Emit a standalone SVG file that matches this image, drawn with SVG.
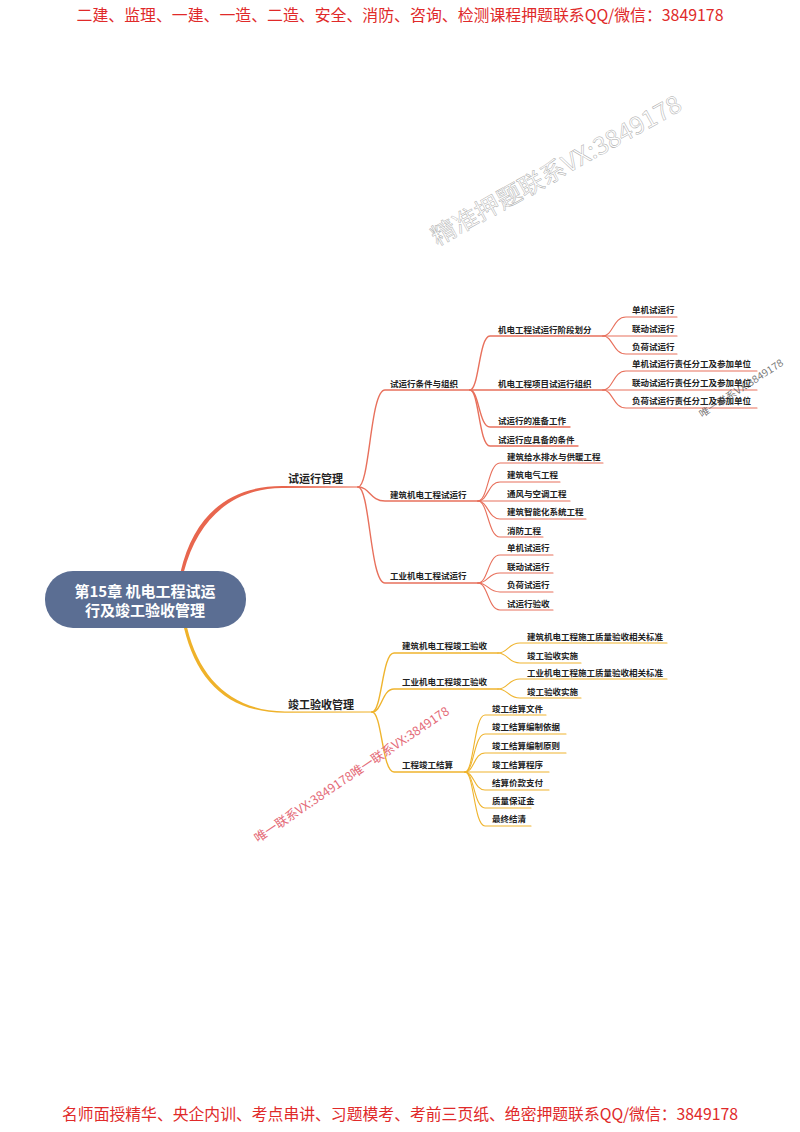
<svg xmlns="http://www.w3.org/2000/svg" width="800" height="1132" viewBox="0 0 800 1132">
<style>
.t{font-family:"Noto Sans CJK SC","Noto Sans",sans-serif;font-weight:700;fill:#222;font-size:8.5px}
.l1{font-size:11px}
.hd{font-family:"Noto Sans CJK SC","Noto Sans",sans-serif;font-size:16px;fill:#e02a2a}
.r{fill:none;stroke:#e8705c;stroke-width:1.4;stroke-linecap:round}
.rl{fill:none;stroke:#e8705c;stroke-width:1.1;stroke-linecap:round}
.y{fill:none;stroke:#efb42e;stroke-width:1.4;stroke-linecap:round}
.yl{fill:none;stroke:#efb42e;stroke-width:1.1;stroke-linecap:round}
</style>
<rect width="800" height="1132" fill="#fff"/>
<text class="hd" x="400" y="21" text-anchor="middle" textLength="647" lengthAdjust="spacingAndGlyphs">二建、监理、一建、一造、二造、安全、消防、咨询、检测课程押题联系QQ/微信：3849178</text>
<text class="hd" x="400" y="1120" text-anchor="middle" textLength="676" lengthAdjust="spacingAndGlyphs">名师面授精华、央企内训、考点串讲、习题模考、考前三页纸、绝密押题联系QQ/微信：3849178</text>

<g id="connectors">
<path d="M180.5 572 C194 515 229 486 282 486 L358 486.4 L358 487.6 L282 488 C233 488.3 198 518 183.8 572 Z" fill="#e8664e"/>
<path d="M184 628 C197 682 229 712.8 285 712.8 L372 712.6 L372 711.4 L285 711.4 C233 711 200 680 187.2 628 Z" fill="#efb22a"/>
<path class="r" d="M358 487 C370 487 370 390 385 390 H470"/>
<path class="r" d="M358 487 C370 487 370 501 385 501 H478"/>
<path class="r" d="M358 487 C370 487 370 583 385 583 H478"/>
<path class="r" d="M470 390 C479 390 479 336 490 336 H603"/>
<path class="r" d="M470 390 H603"/>
<path class="r" d="M470 390 C479 390 479 427 490 427 H570"/>
<path class="r" d="M470 390 C479 390 479 446 490 446 H578"/>
<path class="rl" d="M603 336 C613 336 613 317 626 317 H677"/>
<path class="rl" d="M603 336 H677"/>
<path class="rl" d="M603 336 C613 336 613 354 626 354 H677"/>
<path class="rl" d="M603 390 C613 390 613 371 626 371 H757"/>
<path class="rl" d="M603 390 H757"/>
<path class="rl" d="M603 390 C613 390 613 408 626 408 H757"/>
<path class="rl" d="M478 501 C488 501 488 463 500 463 H603"/>
<path class="rl" d="M478 501 C488 501 488 482 500 482 H560"/>
<path class="rl" d="M478 501 H570"/>
<path class="rl" d="M478 501 C488 501 488 519 500 519 H586"/>
<path class="rl" d="M478 501 C488 501 488 537 500 537 H543"/>
<path class="rl" d="M478 583 C488 583 488 555 500 555 H553"/>
<path class="rl" d="M478 583 C488 583 488 573 500 573 H553"/>
<path class="rl" d="M478 583 C488 583 488 592 500 592 H553"/>
<path class="rl" d="M478 583 C488 583 488 610 500 610 H553"/>
<path class="y" d="M372 712 C382 712 382 653 394 653 H498"/>
<path class="y" d="M372 712 C382 712 382 689 394 689 H498"/>
<path class="y" d="M372 712 C382 712 382 772 394 772 H465"/>
<path class="yl" d="M498 653 C508 653 508 643 520 643 H667"/>
<path class="yl" d="M498 653 C508 653 508 663 520 663 H581"/>
<path class="yl" d="M498 689 C508 689 508 679 520 679 H667"/>
<path class="yl" d="M498 689 C508 689 508 698 520 698 H581"/>
<path class="yl" d="M465 772 C474 772 474 715 485 715 H546"/>
<path class="yl" d="M465 772 C474 772 474 734 485 734 H566"/>
<path class="yl" d="M465 772 C474 772 474 753 485 753 H566"/>
<path class="yl" d="M465 772 H549"/>
<path class="yl" d="M465 772 C474 772 474 790 485 790 H549"/>
<path class="yl" d="M465 772 C474 772 474 808 485 808 H531"/>
<path class="yl" d="M465 772 C474 772 474 826 485 826 H531"/>
</g>

<g id="root">
<rect x="45" y="571" width="201" height="57" rx="28" fill="#5b6e93"/>
<text class="t" x="145" y="597" text-anchor="middle" style="font-size:15px;fill:#fff">第15章 机电工程试运</text>
<text class="t" x="145" y="616" text-anchor="middle" style="font-size:15px;fill:#fff">行及竣工验收管理</text>
</g>

<g id="n-syxgl"><text class="t l1" x="288" y="483">试运行管理</text></g>
<g id="n-jgysgl"><text class="t l1" x="288" y="709">竣工验收管理</text></g>

<g id="n-a1"><text class="t" x="390" y="387">试运行条件与组织</text></g>
<g id="n-a2"><text class="t" x="390" y="498">建筑机电工程试运行</text></g>
<g id="n-a3"><text class="t" x="390" y="579">工业机电工程试运行</text></g>

<g id="n-a1a"><text class="t" x="498" y="333">机电工程试运行阶段划分</text></g>
<g id="n-a1b"><text class="t" x="498" y="387">机电工程项目试运行组织</text></g>
<g id="n-a1c"><text class="t" x="498" y="424">试运行的准备工作</text></g>
<g id="n-a1d"><text class="t" x="498" y="443">试运行应具备的条件</text></g>

<g id="n-a1a1"><text class="t" x="632" y="313">单机试运行</text></g>
<g id="n-a1a2"><text class="t" x="632" y="332">联动试运行</text></g>
<g id="n-a1a3"><text class="t" x="632" y="350">负荷试运行</text></g>
<g id="n-a1b1"><text class="t" x="632" y="367">单机试运行责任分工及参加单位</text></g>
<g id="n-a1b2"><text class="t" x="632" y="386">联动试运行责任分工及参加单位</text></g>
<g id="n-a1b3"><text class="t" x="632" y="404">负荷试运行责任分工及参加单位</text></g>

<g id="n-a2a"><text class="t" x="507" y="460">建筑给水排水与供暖工程</text></g>
<g id="n-a2b"><text class="t" x="507" y="478">建筑电气工程</text></g>
<g id="n-a2c"><text class="t" x="507" y="497">通风与空调工程</text></g>
<g id="n-a2d"><text class="t" x="507" y="515">建筑智能化系统工程</text></g>
<g id="n-a2e"><text class="t" x="507" y="534">消防工程</text></g>

<g id="n-a3a"><text class="t" x="507" y="551">单机试运行</text></g>
<g id="n-a3b"><text class="t" x="507" y="570">联动试运行</text></g>
<g id="n-a3c"><text class="t" x="507" y="588">负荷试运行</text></g>
<g id="n-a3d"><text class="t" x="507" y="607">试运行验收</text></g>

<g id="n-b1"><text class="t" x="402" y="649">建筑机电工程竣工验收</text></g>
<g id="n-b2"><text class="t" x="402" y="685">工业机电工程竣工验收</text></g>
<g id="n-b3"><text class="t" x="402" y="768">工程竣工结算</text></g>

<g id="n-b1a"><text class="t" x="527" y="640">建筑机电工程施工质量验收相关标准</text></g>
<g id="n-b1b"><text class="t" x="527" y="659">竣工验收实施</text></g>
<g id="n-b2a"><text class="t" x="527" y="676">工业机电工程施工质量验收相关标准</text></g>
<g id="n-b2b"><text class="t" x="527" y="695">竣工验收实施</text></g>

<g id="n-b3a"><text class="t" x="492" y="712">竣工结算文件</text></g>
<g id="n-b3b"><text class="t" x="492" y="730">竣工结算编制依据</text></g>
<g id="n-b3c"><text class="t" x="492" y="749">竣工结算编制原则</text></g>
<g id="n-b3d"><text class="t" x="492" y="768">竣工结算程序</text></g>
<g id="n-b3e"><text class="t" x="492" y="786">结算价款支付</text></g>
<g id="n-b3f"><text class="t" x="492" y="804">质量保证金</text></g>
<g id="n-b3g"><text class="t" x="492" y="822">最终结清</text></g>

<g id="watermarks">
<text x="437" y="246" transform="rotate(-29 437 246)" font-family="Noto Sans CJK SC, Noto Sans, sans-serif" font-size="24" fill="none" stroke="#a8a8a8" stroke-width="0.45" textLength="282" lengthAdjust="spacingAndGlyphs">精准押题联系VX:3849178</text>
<text x="702" y="418" transform="rotate(-33 702 418)" font-family="Noto Sans CJK SC, Noto Sans, sans-serif" font-size="10" fill="#555" fill-opacity="0.8" textLength="98" lengthAdjust="spacingAndGlyphs">唯一联系VX:3849178</text>
<text x="258" y="843" transform="rotate(-34 258 843)" font-family="Noto Sans CJK SC, Noto Sans, sans-serif" font-size="12.5" fill="#e46b78" textLength="232" lengthAdjust="spacingAndGlyphs">唯一联系VX:3849178唯一联系VX:3849178</text>
</g>
</svg>
